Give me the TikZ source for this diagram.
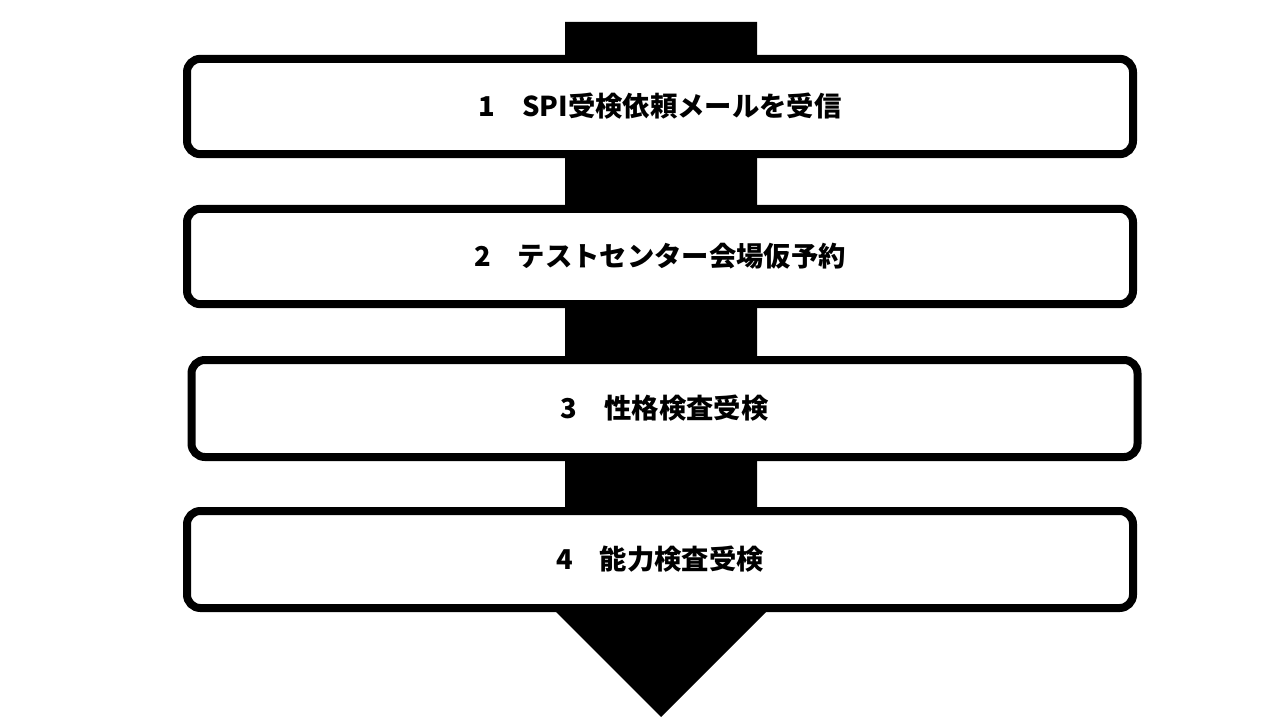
\documentclass[tikz,border=0pt]{standalone}
\usepackage{fontspec}
\newfontfamily\jpfont{Noto Sans CJK JP}
\tikzset{
  stepbox/.style={draw=black, line width=6pt, rounded corners=10pt, fill=white,
    minimum width=709.5pt, minimum height=71.5pt, inner sep=0pt,
    font=\jpfont\bfseries\fontsize{20.5}{24}\selectfont},
}
\begin{document}
\begin{tikzpicture}[x=0.75pt, y=-0.75pt]
  \useasboundingbox (0,0) rectangle (1280,720);

  % big arrow behind the steps
  \coordinate (top) at (661,22);
  \coordinate (tip) at (661,717);
  \fill[black] (565,22) -- (757,22) -- (757,600) -- (778,600) -- (tip) -- (544,600) -- (565,600) -- cycle;

  \node[stepbox] (mail) at (660,106.5) {1　SPI受検依頼メールを受信};
  \node[stepbox] (reserve) at (660,256.5) {2　テストセンター会場仮予約};
  \node[stepbox, minimum height=72.75pt] (personality) at (664.5,408.5) {3　性格検査受検};
  \node[stepbox, minimum height=72.75pt] (ability) at (660,559.5) {4　能力検査受検};
\end{tikzpicture}
\end{document}
